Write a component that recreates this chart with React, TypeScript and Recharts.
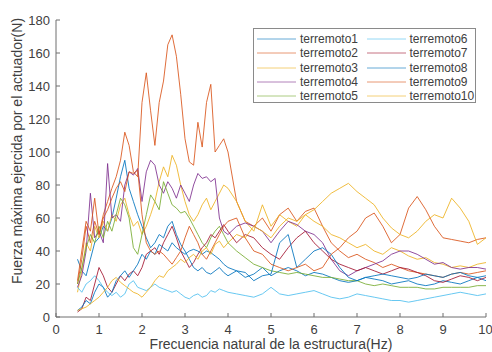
import React from 'react'
import { LineChart, Line, XAxis, YAxis, Legend } from 'recharts'

// frecuencia (Hz): paso 0.1 hasta 4, luego 0.2
const FREQ = [
  0.5, 0.6, 0.7, 0.8, 0.9, 1.0, 1.1, 1.2, 1.3, 1.4, 1.5, 1.6, 1.7, 1.8, 1.9, 2.0, 2.1, 2.2,
  2.3, 2.4, 2.5, 2.6, 2.7, 2.8, 2.9, 3.0, 3.1, 3.2, 3.3, 3.4, 3.5, 3.6, 3.7, 3.8, 3.9, 4.0,
  4.2, 4.4, 4.6, 4.8, 5.0, 5.2, 5.4, 5.6, 5.8, 6.0, 6.2, 6.4, 6.6, 6.8, 7.0, 7.2, 7.4, 7.6,
  7.8, 8.0, 8.2, 8.4, 8.6, 8.8, 9.0, 9.2, 9.4, 9.6, 9.8, 10.0,
]

const T1 = [
  35, 28, 25, 35, 45, 48, 55, 52, 60, 72, 85, 95, 78, 70, 62, 55, 48, 42, 45, 50, 48, 55, 58, 50, 44, 40, 35, 30, 28, 30, 27, 26, 28, 30, 27, 25,
  28, 24, 26, 30, 25, 28, 30, 28, 25, 27, 26, 24, 22, 21, 22, 24, 23, 22, 20, 21, 22, 20, 19, 20, 22, 21, 20, 22, 24, 22,
]
const T2 = [
  20, 35, 55, 45, 58, 50, 62, 70, 78, 85, 95, 112, 104, 88, 85, 130, 148, 125, 104, 130, 143, 165, 171, 158, 135, 108, 94, 92, 118, 103, 130, 141, 100, 104, 108, 100,
  70, 58, 55, 60, 52, 62, 66, 58, 64, 66, 55, 45, 40, 36, 38, 35, 33, 30, 32, 30, 28, 27, 26, 25, 24, 26, 27, 26, 27, 28,
]
const T3 = [
  15, 28, 45, 40, 55, 48, 58, 52, 62, 58, 68, 72, 62, 55, 58, 50, 55, 62, 70, 82, 91, 85, 98, 92, 80, 70, 62, 58, 62, 68, 72, 65, 70, 75, 80, 78,
  70, 58, 52, 68, 55, 62, 58, 55, 62, 58, 55, 50, 48, 45, 42, 44, 40, 38, 42, 40, 37, 35, 36, 33, 32, 30, 31, 30, 32, 33,
]
const T4 = [
  18, 25, 40, 75, 48, 52, 45, 93, 60, 62, 58, 80, 88, 86, 90, 70, 88, 95, 92, 80, 75, 82, 78, 72, 80, 75, 70, 80, 87, 84, 85, 82, 84, 60, 52, 50,
  55, 57, 55, 52, 45, 52, 58, 56, 52, 50, 45, 35, 28, 25, 28, 30, 32, 34, 38, 40, 40, 38, 35, 32, 33, 30, 29, 30, 30, 29,
]
const T5 = [
  20, 30, 42, 50, 45, 55, 48, 58, 52, 62, 72, 68, 60, 42, 38, 50, 62, 74, 70, 65, 82, 75, 68, 66, 63, 64, 60, 55, 50, 45, 42, 48, 52, 55, 50, 45,
  40, 36, 32, 30, 28, 27, 26, 27, 26, 25, 24, 24, 23, 22, 22, 20, 19, 20, 19, 18, 18, 18, 17, 17, 18, 18, 18, 18, 19, 19,
]
const T6 = [
  18, 15, 20, 22, 25, 22, 18, 15, 13, 15, 12, 14, 20, 22, 18, 17, 16, 18, 20, 18, 17, 16, 15, 16, 14, 12, 11, 13, 14, 12, 13, 16, 15, 17, 16, 15,
  14, 13, 12, 14, 18, 14, 13, 14, 15, 16, 14, 12, 11, 12, 14, 13, 12, 11, 10, 10, 9, 10, 11, 12, 13, 14, 15, 14, 13, 14,
]
const T7 = [
  3, 5, 12, 10, 20, 30, 25, 18, 15, 20, 25, 22, 26, 28, 25, 30, 38, 40, 42, 38, 45, 50, 55, 48, 40, 35, 30, 33, 38, 42, 45, 50, 48, 52, 56, 52,
  45, 50, 48, 42, 38, 35, 42, 48, 52, 45, 40, 35, 32, 30, 28, 30, 28, 26, 28, 30, 29, 27, 25, 22, 21, 23, 25, 24, 22, 24,
]
const T8 = [
  4, 6, 10, 8, 15, 20, 18, 12, 15, 22, 25, 28, 24, 28, 32, 38, 35, 40, 38, 44, 42, 40, 45, 42, 40, 38, 40, 41, 40, 38, 40, 39, 37, 35, 32, 30,
  28, 27, 22, 25, 26, 45, 50, 30, 35, 40, 42, 38, 30, 24, 22, 24, 25, 26, 25, 24, 23, 24, 26, 25, 24, 26, 27, 25, 24, 25,
]
const T9 = [
  22, 40, 58, 52, 72, 50, 60, 65, 72, 78, 82, 76, 88, 87, 89, 62, 45, 40, 38, 40, 38, 35, 32, 36, 40, 48, 55, 50, 45, 38, 35, 40, 45, 50, 55, 58,
  60, 48, 40, 38, 32, 30, 28, 30, 32, 28, 30, 38, 42, 48, 52, 60, 63, 55, 45, 50, 66, 73, 65, 55, 48, 47, 46, 45, 47, 48,
]
const T10 = [
  4, 5, 6, 8, 10, 12, 15, 18, 22, 24, 21, 19, 17, 15, 14, 12, 15, 18, 22, 25, 24, 28, 30, 32, 35, 33, 36, 38, 35, 40, 42, 38, 44, 46, 42, 45,
  50, 48, 55, 52, 48, 55, 60, 58, 62, 65, 70, 75, 78, 81, 76, 72, 68, 60, 54, 50, 48, 52, 58, 62, 60, 72, 66, 58, 44, 48,
]

const NAMES = [
  'terremoto1', 'terremoto2', 'terremoto3', 'terremoto4', 'terremoto5',
  'terremoto6', 'terremoto7', 'terremoto8', 'terremoto9', 'terremoto10',
]
const SERIES = [T1, T2, T3, T4, T5, T6, T7, T8, T9, T10]
const COLORS = [
  '#0072BD', '#D95319', '#EDB120', '#7E2F8E', '#77AC30',
  '#4DBEEE', '#A2142F', '#0072BD', '#D95319', '#EDB120',
]

const X_TICKS = [0, 1, 2, 3, 4, 5, 6, 7, 8, 9, 10]
const Y_TICKS = [0, 20, 40, 60, 80, 100, 120, 140, 160, 180]

const data = FREQ.map((f, i) => {
  const row: Record<string, number> = { f }
  NAMES.forEach((n, s) => {
    row[n] = SERIES[s][i]
  })
  return row
})

const FONT = "'Liberation Sans', Arial, sans-serif"
const TEXT = '#404040'
const AXIS = '#6e6e6e'

function renderLegend() {
  return (
    <div
      style={{
        position: 'relative',
        width: 223,
        height: 75,
        boxSizing: 'border-box',
        border: '1px solid #8a8a8a',
        background: '#fff',
        fontFamily: FONT,
        fontSize: 12,
        color: TEXT,
      }}
    >
      {NAMES.map((n, i) => {
        const col = Math.floor(i / 5)
        const row = i % 5
        return (
          <div
            key={n}
            style={{
              position: 'absolute',
              left: 3 + col * 109.5,
              top: 3 + row * 14.3,
              height: 14,
              display: 'flex',
              alignItems: 'center',
              whiteSpace: 'nowrap',
            }}
          >
            <svg width={39} height={4} style={{ marginRight: 4 }}>
              <line x1={0} y1={2} x2={39} y2={2} stroke={COLORS[i]} strokeOpacity={0.6} strokeWidth={1} />
            </svg>
            <span>{n}</span>
          </div>
        )
      })}
    </div>
  )
}

function renderYLabel() {
  return (
    <text
      x={17}
      y={151}
      transform="rotate(-90 17 151)"
      textAnchor="middle"
      dominantBaseline="central"
      fill={TEXT}
      fontSize={14}
      fontFamily={FONT}
    >
      Fuerza máxima ejercida por el actuador(N)
    </text>
  )
}

export default function App() {
  const tickStyle = { fill: TEXT, fontSize: 13, fontFamily: FONT }
  return (
    <div style={{ position: 'absolute', left: 0, top: 0, background: '#fff' }}>
      <LineChart width={492} height={352} data={data} margin={{ top: 20, right: 6, bottom: 0, left: 0 }}>
        <XAxis
          dataKey="f"
          type="number"
          domain={[0, 10]}
          ticks={X_TICKS}
          allowDataOverflow
          height={35}
          tickSize={-4}
          tickMargin={12}
          tick={tickStyle}
          axisLine={{ stroke: AXIS }}
          tickLine={{ stroke: AXIS }}
          label={{
            value: 'Frecuencia natural de la estructura(Hz)',
            position: 'insideBottom',
            offset: 3,
            fill: TEXT,
            fontSize: 14,
            fontFamily: FONT,
          }}
        />
        <XAxis
          xAxisId="top"
          orientation="top"
          type="number"
          domain={[0, 10]}
          ticks={X_TICKS}
          allowDataOverflow
          height={0}
          tickSize={-4}
          tick={false}
          axisLine={{ stroke: AXIS }}
          tickLine={{ stroke: AXIS }}
        />
        <YAxis
          type="number"
          domain={[0, 180]}
          ticks={Y_TICKS}
          allowDataOverflow
          width={56}
          tickSize={-4}
          tickMargin={10}
          tick={tickStyle}
          axisLine={{ stroke: AXIS }}
          tickLine={{ stroke: AXIS }}
          label={{ content: renderYLabel }}
        />
        <YAxis
          yAxisId="right"
          orientation="right"
          type="number"
          domain={[0, 180]}
          ticks={Y_TICKS}
          allowDataOverflow
          width={0}
          tickSize={-4}
          tick={false}
          axisLine={{ stroke: AXIS }}
          tickLine={{ stroke: AXIS }}
        />
        <Legend
          layout="vertical"
          align="center"
          verticalAlign="middle"
          content={renderLegend}
          wrapperStyle={{ position: 'absolute', left: 253, top: 28, width: 223, height: 75 }}
        />
        {NAMES.map((n, i) => (
          <Line
            key={n}
            type="linear"
            dataKey={n}
            stroke={COLORS[i]}
            strokeOpacity={0.85}
            strokeWidth={1}
            dot={false}
            activeDot={false}
            isAnimationActive={false}
          />
        ))}
      </LineChart>
    </div>
  )
}
